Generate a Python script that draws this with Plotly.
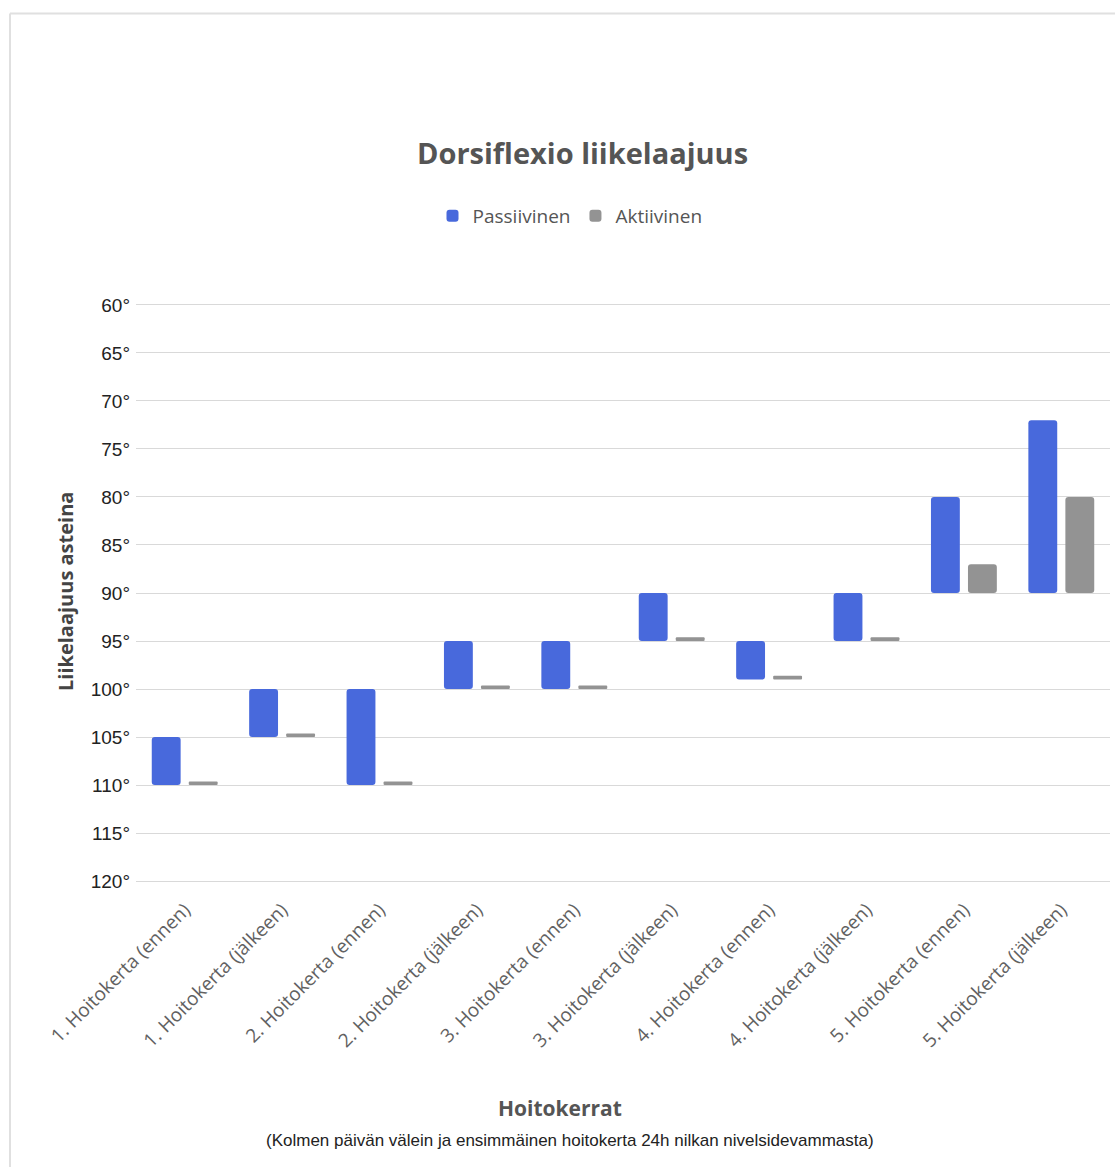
import plotly.graph_objects as go
import numpy as np

categories = [
    "1. Hoitokerta (ennen)", "1. Hoitokerta (jälkeen)",
    "2. Hoitokerta (ennen)", "2. Hoitokerta (jälkeen)",
    "3. Hoitokerta (ennen)", "3. Hoitokerta (jälkeen)",
    "4. Hoitokerta (ennen)", "4. Hoitokerta (jälkeen)",
    "5. Hoitokerta (ennen)", "5. Hoitokerta (jälkeen)",
]
passive_start = [110, 105, 110, 100, 100, 95, 99, 95, 90, 90]
passive_end = [105, 100, 100, 95, 95, 90, 95, 90, 80, 72]
active_start = [110, 105, 110, 100, 100, 95, 99, 95, 90, 90]
active_end = [110, 105, 110, 100, 100, 95, 99, 95, 87, 80]
y_ticks = list(range(60, 121, 5))

W, H = 1115, 1167
L, R, T, B = 136, 5, 302, 283
pw, ph = W - L - R, H - T - B


def px(x):
    return (x - L) / pw


def py(y):
    return (H - B - y) / ph


def lengths(s, e, minlen=0.38):
    d = np.array(e, float) - np.array(s, float)
    return np.where(np.abs(d) < 1e-9, -minlen, d)


fig = go.Figure()
fig.add_trace(go.Bar(
    x=categories, base=passive_start, y=lengths(passive_start, passive_end),
    name="Passiivinen", marker=dict(color="#4869dc", line=dict(width=0)),
))
fig.add_trace(go.Bar(
    x=categories, base=active_start, y=lengths(active_start, active_end),
    name="Aktiivinen", marker=dict(color="#939393", line=dict(width=0)),
))

fig.update_layout(
    width=W, height=H,
    margin=dict(l=L, r=R, t=T, b=B),
    paper_bgcolor="white", plot_bgcolor="white",
    barmode="group", bargap=0.24, bargroupgap=0.22, barcornerradius=3,
    showlegend=True,
    legend=dict(orientation="h", x=px(570), y=py(216), xanchor="center", yanchor="middle",
                font=dict(family="Open Sans", size=19, color="#555"),
                itemwidth=30, traceorder="normal"),
    xaxis=dict(
        tickangle=-45, tickfont=dict(family="Open Sans", size=19, color="#616161"),
        showgrid=False, showline=False, ticks="", zeroline=False, ticklabelstandoff=10,
    ),
    yaxis=dict(
        range=[120.3, 59.7], tickvals=y_ticks, ticktext=[f"{v}°" for v in y_ticks],
        tickfont=dict(family="Liberation Sans, Arial", size=19, color="#222"),
        showgrid=True, gridcolor="#d9d9d9", gridwidth=1.3, zeroline=False, showline=False,
        ticks="", ticklabelstandoff=5,
    ),
    annotations=[
        dict(text="<b>Dorsiflexio liikelaajuus</b>", x=px(582), y=py(152), xref="paper", yref="paper",
             showarrow=False, font=dict(family="Open Sans", size=29, color="#555"),
             xanchor="center", yanchor="middle"),
        dict(text="<b>Liikelaajuus asteina</b>", x=px(65), y=py(592), xref="paper", yref="paper",
             showarrow=False, textangle=-90, font=dict(family="Open Sans", size=20, color="#444"),
             xanchor="center", yanchor="middle"),
        dict(text="<b>Hoitokerrat</b>", x=px(560), y=py(1108), xref="paper", yref="paper",
             showarrow=False, font=dict(family="Open Sans", size=21, color="#555"),
             xanchor="center", yanchor="middle"),
        dict(text="(Kolmen päivän välein ja ensimmäinen hoitokerta 24h nilkan nivelsidevammasta)",
             x=px(570), y=py(1140), xref="paper", yref="paper",
             showarrow=False, font=dict(family="Liberation Sans, Arial", size=17, color="#222"),
             xanchor="center", yanchor="middle"),
    ],
    shapes=[
        dict(type="line", xref="paper", yref="paper", x0=px(10), x1=px(10), y0=py(1170), y1=py(13.5),
             line=dict(color="#e0e0e0", width=2)),
        dict(type="line", xref="paper", yref="paper", x0=px(10), x1=px(1120), y0=py(13.5), y1=py(13.5),
             line=dict(color="#e0e0e0", width=2)),
    ],
)

fig.write_html("out.html")
